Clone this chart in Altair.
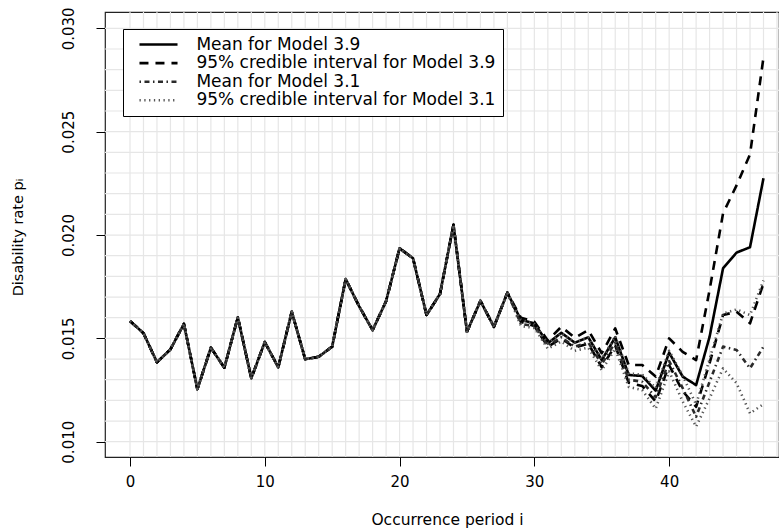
import altair as alt
import pandas as pd

# Occurrence periods and observed disability rates (identical for all series up to i = 28)
periods = list(range(48))
observed = [
    0.01584, 0.01525, 0.01384, 0.01447, 0.01570, 0.01254, 0.01455, 0.01358,
    0.01602, 0.01307, 0.01482, 0.01360, 0.01629, 0.01399, 0.01411, 0.01460,
    0.01787, 0.01655, 0.01540, 0.01680, 0.01936, 0.01887, 0.01613, 0.01715,
    0.02049, 0.01532, 0.01681, 0.01556, 0.01721,
]

# Estimated rates for periods 29..47
mean_39 = [0.01589, 0.01573, 0.01476, 0.01527, 0.01479, 0.01505, 0.01395, 0.01505,
           0.01323, 0.01318, 0.01247, 0.01431, 0.01315, 0.01274, 0.01508, 0.01839,
           0.01915, 0.01941, 0.02275]
upper_39 = [0.01600, 0.01580, 0.01490, 0.01556, 0.01503, 0.01540, 0.01428, 0.01548,
            0.01371, 0.01371, 0.01315, 0.01500, 0.01435, 0.01395, 0.01734, 0.02105,
            0.02240, 0.02390, 0.02860]
lower_39 = [0.01580, 0.01560, 0.01460, 0.01500, 0.01455, 0.01475, 0.01360, 0.01465,
            0.01285, 0.01270, 0.01195, 0.01370, 0.01245, 0.01169, 0.01380, 0.01613,
            0.01629, 0.01573, 0.01766]
mean_31 = [0.01570, 0.01560, 0.01465, 0.01505, 0.01460, 0.01480, 0.01375, 0.01480,
           0.01300, 0.01290, 0.01215, 0.01390, 0.01260, 0.01121, 0.01290, 0.01460,
           0.01444, 0.01355, 0.01460]
upper_31 = [0.01590, 0.01570, 0.01475, 0.01525, 0.01480, 0.01505, 0.01400, 0.01510,
            0.01330, 0.01325, 0.01260, 0.01440, 0.01320, 0.01180, 0.01400, 0.01620,
            0.01640, 0.01613, 0.01780]
lower_31 = [0.01560, 0.01550, 0.01450, 0.01485, 0.01440, 0.01455, 0.01345, 0.01450,
            0.01265, 0.01250, 0.01160, 0.01340, 0.01195, 0.01073, 0.01210, 0.01355,
            0.01283, 0.01137, 0.01182]

series_names = [
    "Mean for Model 3.9",
    "95% credible interval for Model 3.9",
    "Mean for Model 3.1",
    "95% credible interval for Model 3.1",
]

x_ticks = [0, 10, 20, 30, 40]
y_ticks = [0.010, 0.015, 0.020, 0.025, 0.030]
x_grid = list(range(49))
y_grid = [round(0.010 + 0.001 * k, 3) for k in range(21)]

lines = [
    ("m39", series_names[0], mean_39),
    ("u39", series_names[1], upper_39),
    ("l39", series_names[1], lower_39),
    ("m31", series_names[2], mean_31),
    ("u31", series_names[3], upper_31),
    ("l31", series_names[3], lower_31),
]
rows = []
for key, name, tail in lines:
    values = observed + tail
    for i, p in zip(periods, values):
        rows.append({"i": i, "p": p, "series": name, "line": key})
df = pd.DataFrame(rows)

FONT = "DejaVu Sans"
x_scale = alt.Scale(domain=[-1.855, 48.15], nice=False, zero=False)
y_scale = alt.Scale(domain=[0.00926, 0.030791], nice=False, zero=False)

x_axis = alt.Axis(
    values=x_ticks, format="d", grid=False, tickSize=9, tickColor="black",
    domain=False, labelFont=FONT, labelFontSize=15, labelColor="black",
    labelPadding=8, title="Occurrence period i", titleFont=FONT,
    titleFontSize=15.5, titleFontWeight="normal", titleColor="black",
    titleX=342, titleY=62, titleBaseline="middle",
)
y_axis = alt.Axis(
    values=y_ticks, format=".3f", grid=False, tickSize=9, tickColor="black",
    domain=False, labelFont=FONT, labelFontSize=15, labelColor="black",
    labelAngle=270, labelAlign="center", labelBaseline="bottom",
    labelPadding=20, title="Disability rate  p\u1d62", titleFont=FONT,
    titleFontSize=14.5, titleFontWeight="normal", titleColor="black",
    titleAngle=270, titleX=-87, titleY=225, titleAlign="center",
    titleBaseline="middle",
)

# light reference grid at every period and every 0.001
grid_v = alt.Chart(pd.DataFrame({"i": x_grid})).mark_rule(
    color="#e6e6e6", strokeWidth=1.2
).encode(x=alt.X("i:Q", scale=x_scale, axis=x_axis))

grid_h = alt.Chart(pd.DataFrame({"p": y_grid})).mark_rule(
    color="#e6e6e6", strokeWidth=1.2
).encode(y=alt.Y("p:Q", scale=y_scale, axis=y_axis))

series_lines = alt.Chart(df).mark_line(strokeCap="butt", strokeJoin="round").encode(
    x=alt.X("i:Q", scale=x_scale, axis=x_axis),
    y=alt.Y("p:Q", scale=y_scale, axis=y_axis),
    detail="line:N",
    color=alt.Color(
        "series:N",
        scale=alt.Scale(domain=series_names, range=["black", "black", "#2a2a2a", "#555555"]),
        legend=alt.Legend(
            title=None, orient="none", legendX=18, legendY=17, direction="vertical",
            strokeColor="black", fillColor="white", padding=7, symbolOffset=20,
            symbolType="M-3.17,0H3.17", symbolSize=144, labelFont=FONT,
            labelFontSize=17, labelColor="black", labelOffset=29.4,
            labelLimit=500, rowPadding=0.6,
        ),
    ),
    strokeDash=alt.StrokeDash(
        "series:N",
        scale=alt.Scale(domain=series_names,
                        range=[[1, 0], [9, 7], [1.5, 3.5, 5, 3.5], [1.3, 3.5]]),
    ),
    strokeWidth=alt.StrokeWidth(
        "series:N",
        scale=alt.Scale(domain=series_names, range=[2.6, 2.6, 1.0, 1.0]),
    ),
)

chart = alt.layer(grid_v, grid_h, series_lines).properties(
    width=674,
    height=445,
    padding={"left": 105, "top": 12, "right": 0, "bottom": 71},
    autosize=alt.AutoSizeParams(type="none"),
    background="white",
).configure_view(stroke="#222222", strokeWidth=1.2)

chart.save("out.html", embed_options={"renderer": "svg", "actions": False})
